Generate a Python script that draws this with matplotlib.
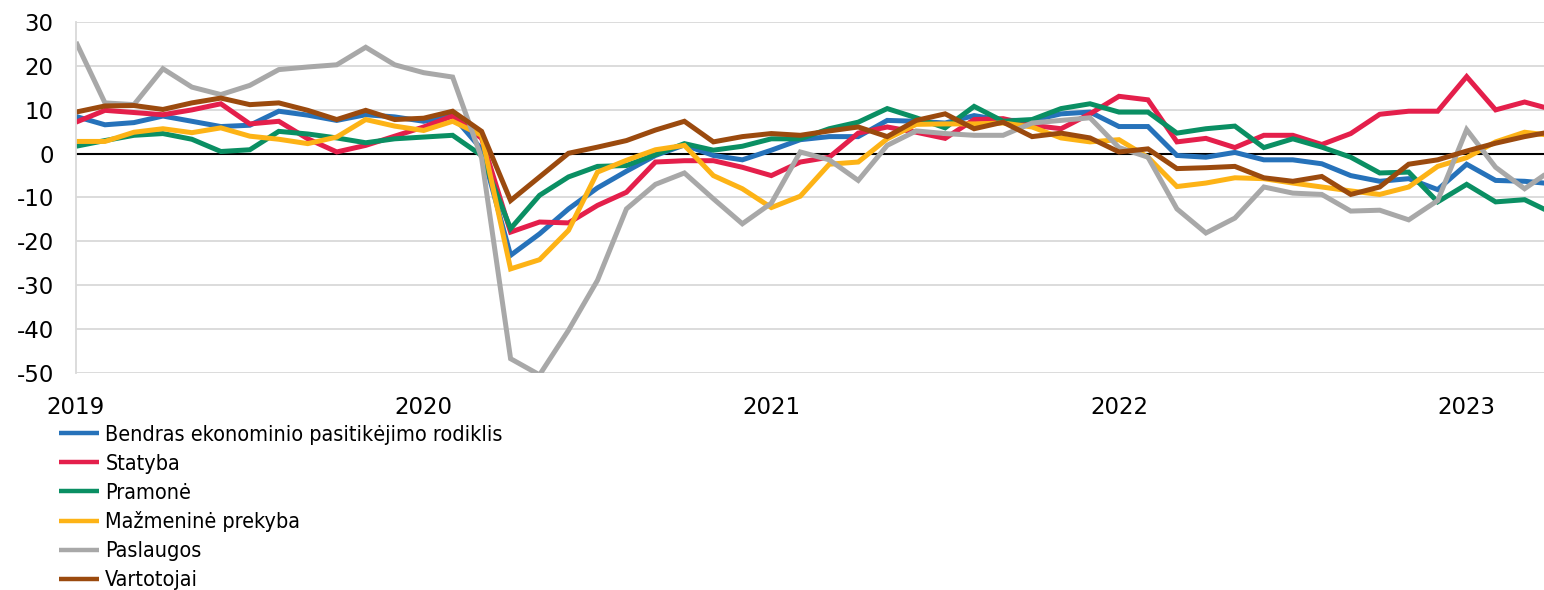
import matplotlib
matplotlib.use('Agg')
import matplotlib.pyplot as plt
from matplotlib.font_manager import FontProperties

plt.rcParams['axes.unicode_minus'] = False

# monthly values, Jan 2019 .. Apr 2023
bendras = [8.5, 6.6, 7.1, 8.6, 7.4, 6.2, 6.5, 9.7, 8.8, 7.6, 8.9, 8.4,
           7.4, 8.7, 1.0, -23.2, -18.3, -12.6, -7.8, -4.0, -0.4, 2.0, -0.4, -1.4,
           0.8, 3.2, 3.9, 3.9, 7.6, 7.4, 7.0, 8.7, 7.6, 7.6, 9.1, 9.5,
           6.2, 6.2, -0.4, -0.8, 0.3, -1.4, -1.4, -2.3, -5.0, -6.3, -5.7, -8.2,
           -2.4, -6.1, -6.3, -6.9]
statyba = [7.2, 9.9, 9.4, 8.9, 10.0, 11.4, 6.8, 7.4, 3.4, 0.4, 1.9, 4.0,
           6.1, 8.6, 3.5, -17.9, -15.6, -15.8, -11.8, -8.8, -1.9, -1.6, -1.6, -3.1,
           -5.0, -1.9, -0.8, 4.7, 6.1, 4.9, 3.5, 7.8, 8.0, 6.5, 5.7, 9.1,
           13.1, 12.3, 2.7, 3.5, 1.4, 4.2, 4.2, 2.1, 4.6, 9.0, 9.7, 9.7,
           17.6, 10.0, 11.8, 10.0]
pramone = [1.7, 3.0, 4.2, 4.6, 3.3, 0.5, 0.9, 5.1, 4.5, 3.6, 2.5, 3.4,
           3.8, 4.2, -0.4, -17.1, -9.5, -5.3, -2.9, -2.7, -0.2, 2.3, 0.8, 1.7,
           3.4, 3.4, 5.7, 7.2, 10.3, 8.2, 5.9, 10.8, 7.4, 7.8, 10.3, 11.4,
           9.5, 9.5, 4.7, 5.7, 6.3, 1.4, 3.4, 1.5, -0.8, -4.4, -4.2, -11.0,
           -7.0, -11.0, -10.5, -13.7]
mazmenine = [2.8, 2.8, 4.9, 5.7, 4.8, 5.9, 4.0, 3.3, 2.3, 3.8, 7.8, 6.3,
             5.3, 7.4, 4.2, -26.3, -24.2, -17.5, -4.2, -1.5, 0.9, 1.9, -5.0, -8.0,
             -12.3, -9.7, -2.4, -1.9, 3.4, 6.7, 6.8, 6.8, 7.0, 6.1, 3.6, 2.7,
             3.2, -0.8, -7.5, -6.7, -5.5, -5.7, -6.7, -7.6, -8.5, -9.3, -7.6, -2.9,
             -0.9, 2.7, 4.9, 4.1]
paslaugos = [25.5, 11.6, 11.2, 19.4, 15.2, 13.5, 15.6, 19.2, 19.8, 20.3, 24.3, 20.3,
             18.5, 17.5, -1.0, -46.8, -50.5, -40.3, -28.9, -12.6, -7.0, -4.4, -10.3, -16.0,
             -11.3, 0.4, -1.4, -6.1, 1.9, 5.2, 4.6, 4.2, 4.2, 7.0, 7.6, 8.2,
             1.4, -0.8, -12.6, -18.1, -14.7, -7.6, -9.0, -9.3, -13.1, -12.9, -15.1, -10.7,
             5.5, -3.1, -8.0, -3.4]
vartotojai = [9.5, 10.9, 11.0, 10.1, 11.6, 12.7, 11.2, 11.6, 9.9, 7.8, 9.9, 7.8,
              8.1, 9.7, 5.1, -10.7, -5.3, 0.1, 1.5, 3.0, 5.4, 7.4, 2.7, 3.9,
              4.6, 4.2, 5.2, 6.1, 3.9, 7.6, 9.1, 5.7, 7.2, 3.9, 4.7, 3.6,
              0.4, 1.1, -3.4, -3.2, -2.9, -5.5, -6.3, -5.2, -9.3, -7.6, -2.4, -1.4,
              0.6, 2.4, 3.9, 5.1]

labels = ['Bendras ekonominio pasitikėjimo rodiklis', 'Statyba', 'Pramonė',
          'Mažmeninė prekyba', 'Paslaugos', 'Vartotojai']
colors = ['#2672ba', '#e41f4b', '#0a8f63', '#fdb316', '#a8a8a8', '#9b4a0e']
years = ['2019', '2020', '2021', '2022', '2023']


def main():
    series = [bendras, statyba, pramone, mazmenine, paslaugos, vartotojai]
    months = list(range(len(bendras)))

    fig = plt.figure(figsize=(15.44, 5.90), dpi=100)
    ax = fig.add_axes([76 / 1544, 217.3 / 590, 1 - 76 / 1544, 350.4 / 590])

    for vals, lab, col in zip(series, labels, colors):
        ax.plot(months, vals, color=col, lw=3.6, label=lab,
                solid_joinstyle='miter', solid_capstyle='butt')

    ax.set_xlim(0, 50.67)
    ax.set_ylim(-50, 30)
    ax.set_yticks(range(-50, 31, 10))
    ax.set_xticks(range(0, 49, 12))
    ax.set_xticklabels(years)
    ax.yaxis.grid(True, color='#d9d9d9', lw=1.3)
    ax.set_axisbelow(True)
    ax.axhline(0, color='black', lw=1.5, zorder=1.5)

    for s in ['top', 'right', 'bottom']:
        ax.spines[s].set_visible(False)
    ax.spines['left'].set_color('#d9d9d9')
    ax.spines['left'].set_linewidth(1.3)
    ax.tick_params(axis='both', length=0, labelsize=16.5, colors='black')
    ax.tick_params(axis='y', pad=16)
    ax.tick_params(axis='x', pad=17)

    prop = FontProperties(family='DejaVu Sans', stretch='condensed', size=15.5)
    leg = fig.legend(loc='upper left', bbox_to_anchor=(59 / 1544, 1 - 425 / 590),
                     frameon=False, prop=prop, handlelength=1.85, handletextpad=0.3,
                     labelspacing=0.41, borderaxespad=0, borderpad=0)
    for h in leg.legend_handles:
        h.set_linewidth(3.2)

    fig.savefig('out.png', dpi=100)


if __name__ == '__main__':
    main()
